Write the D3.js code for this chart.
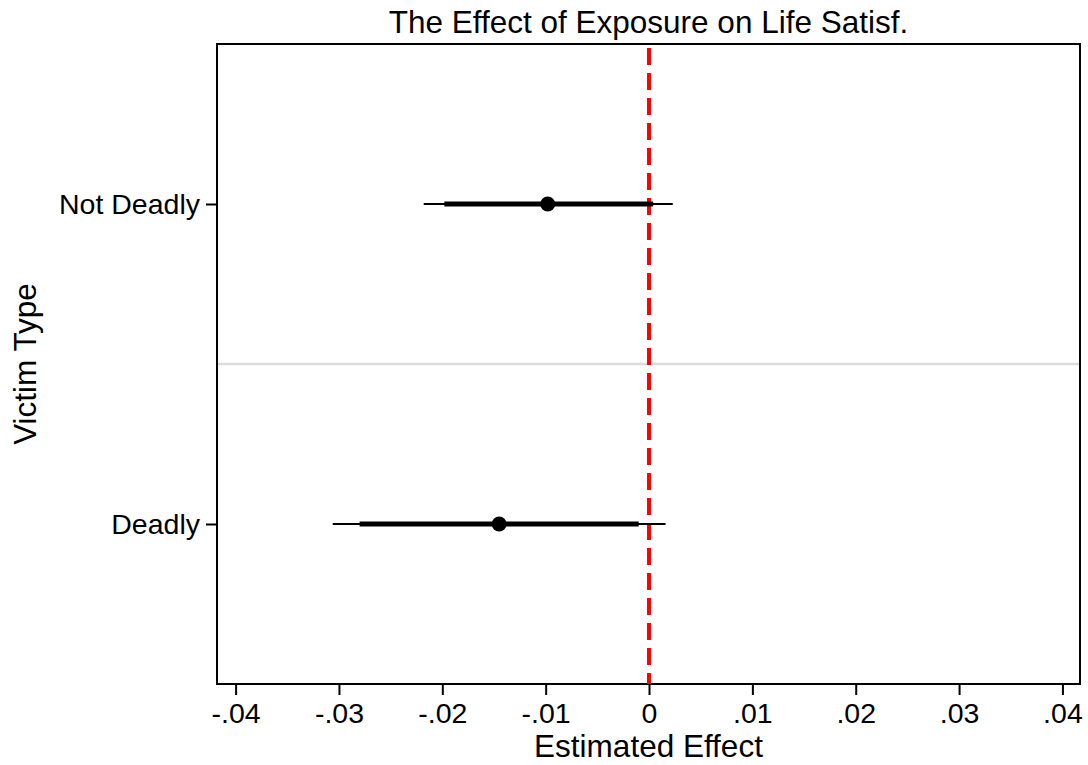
<!DOCTYPE html>
<html>
<head>
<meta charset="utf-8">
<script src="https://cdn.jsdelivr.net/npm/d3@7"></script>
<style>
  html, body { margin: 0; padding: 0; background: #fff; }
  svg { display: block; font-family: "Liberation Sans", Arial, sans-serif; }
</style>
</head>
<body>
<svg id="chart" width="1088" height="765"></svg>
<script>
// categories, bottom to top
const categories = ["Deadly", "Not Deadly"];
const estimates = [-0.0145, -0.0098];
const ci90Low = [-0.0280, -0.0198];
const ci90High = [-0.0010, 0.0004];
const ci95Low = [-0.0306, -0.0218];
const ci95High = [0.0016, 0.0023];
const xTicks = [-0.04, -0.03, -0.02, -0.01, 0, 0.01, 0.02, 0.03, 0.04];

const svg = d3.select("#chart");
const margin = { top: 44, right: 8, bottom: 81, left: 217 };
const width = +svg.attr("width");
const height = +svg.attr("height");

const x = d3.scaleLinear()
  .domain([-0.0418, 0.0417])
  .range([margin.left, width - margin.right]);

const y = d3.scaleLinear()
  .domain([0.5, 2.5])
  .range([height - margin.bottom, margin.top]);

const fmt = d => d === 0 ? "0" : (d < 0 ? "-" : "") + d3.format(".2f")(Math.abs(d)).replace(/^0/, "");

const data = categories.map((c, i) => ({
  cat: c,
  pos: i + 1,
  est: estimates[i],
  lo90: ci90Low[i], hi90: ci90High[i],
  lo95: ci95Low[i], hi95: ci95High[i]
}));

// grid line between categories
svg.append("line")
  .attr("x1", margin.left).attr("x2", width - margin.right)
  .attr("y1", y(1.5)).attr("y2", y(1.5))
  .attr("stroke", "#dcdcdc").attr("stroke-width", 2.5);

// x axis
const xAxis = svg.append("g")
  .attr("transform", `translate(0,${height - margin.bottom})`)
  .call(d3.axisBottom(x).tickValues(xTicks).tickFormat(fmt).tickSize(11).tickPadding(8).tickSizeOuter(0));
xAxis.select(".domain").remove();
xAxis.selectAll(".tick line").attr("stroke", "#000").attr("stroke-width", 2);
xAxis.selectAll(".tick text").attr("font-size", 28.5).attr("fill", "#000")
  .attr("font-family", "Liberation Sans, Arial, sans-serif");

// y axis
const yAxis = svg.append("g")
  .attr("transform", `translate(${margin.left},0)`)
  .call(d3.axisLeft(y).tickValues(data.map(d => d.pos)).tickFormat((d, i) => categories[i])
    .tickSize(11).tickPadding(6).tickSizeOuter(0));
yAxis.select(".domain").remove();
yAxis.selectAll(".tick line").attr("stroke", "#000").attr("stroke-width", 2);
yAxis.selectAll(".tick text").attr("font-size", 28.5).attr("fill", "#000")
  .attr("font-family", "Liberation Sans, Arial, sans-serif");

// frame
svg.append("rect")
  .attr("x", margin.left).attr("y", margin.top)
  .attr("width", width - margin.right - margin.left)
  .attr("height", height - margin.bottom - margin.top)
  .attr("fill", "none").attr("stroke", "#000").attr("stroke-width", 2);

// zero reference line
svg.append("line")
  .attr("x1", x(0)).attr("x2", x(0))
  .attr("y1", margin.top + 4).attr("y2", height - margin.bottom)
  .attr("stroke", "#ff0000").attr("stroke-width", 4)
  .attr("stroke-dasharray", "17,8");

// wide CIs
svg.selectAll(".ci95").data(data).join("line")
  .attr("x1", d => x(d.lo95)).attr("x2", d => x(d.hi95))
  .attr("y1", d => y(d.pos)).attr("y2", d => y(d.pos))
  .attr("stroke", "#000").attr("stroke-width", 2);

// narrow CIs
svg.selectAll(".ci90").data(data).join("line")
  .attr("x1", d => x(d.lo90)).attr("x2", d => x(d.hi90))
  .attr("y1", d => y(d.pos)).attr("y2", d => y(d.pos))
  .attr("stroke", "#000").attr("stroke-width", 5);

// point estimates
svg.selectAll(".pt").data(data).join("circle")
  .attr("cx", d => x(d.est)).attr("cy", d => y(d.pos))
  .attr("r", 7.5).attr("fill", "#000");

// title and axis titles
svg.append("text")
  .attr("x", (margin.left + width - margin.right) / 2).attr("y", 33)
  .attr("text-anchor", "middle").attr("font-size", 31.5)
  .text("The Effect of Exposure on Life Satisf.");

svg.append("text")
  .attr("x", (margin.left + width - margin.right) / 2).attr("y", 757)
  .attr("text-anchor", "middle").attr("font-size", 31.5)
  .text("Estimated Effect");

svg.append("text")
  .attr("transform", `translate(36,${y(1.5)}) rotate(-90)`)
  .attr("text-anchor", "middle").attr("font-size", 31.5)
  .text("Victim Type");
</script>
</body>
</html>
